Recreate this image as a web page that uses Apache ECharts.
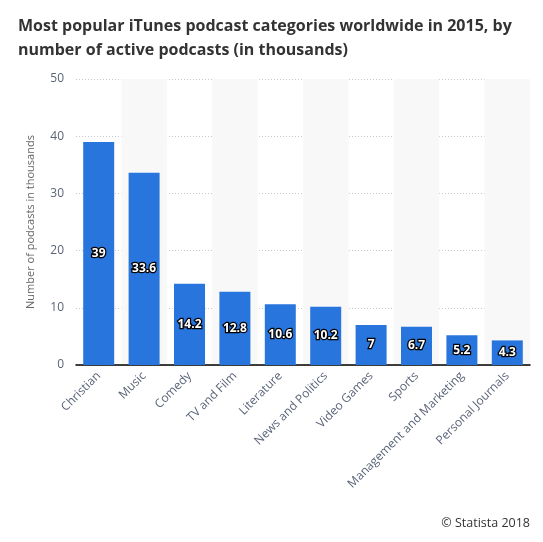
<!DOCTYPE html>
<html><head><meta charset="utf-8">
<script src="https://cdn.jsdelivr.net/npm/echarts@6/dist/echarts.min.js"></script>
<style>html,body{margin:0;padding:0;background:#fff;}#c{width:543px;height:542px;}</style>
</head><body><div id="c"></div>
<script>
const categories = ["Christian","Music","Comedy","TV and Film","Literature","News and Politics","Video Games","Sports","Management and Marketing","Personal Journals"];
const values = [39, 33.6, 14.2, 12.8, 10.6, 10.2, 7, 6.7, 5.2, 4.3];
const yTicks = [0, 10, 20, 30, 40, 50];

const chart = echarts.init(document.getElementById('c'));
chart.setOption({
  animation: false,
  textStyle: { fontFamily: 'Open Sans' },
  title: [{
    text: 'Most popular iTunes podcast categories worldwide in 2015, by\nnumber of active podcasts (in thousands)',
    left: 13, top: 9,
    textStyle: { fontFamily: 'Open Sans', fontSize: 16, fontWeight: 'bold', color: '#333', lineHeight: 24 }
  }, {
    text: '© Statista 2018',
    right: 8, bottom: 7,
    textStyle: { fontFamily: 'Open Sans', fontSize: 12.5, fontWeight: 'normal', color: '#333' }
  }],
  grid: { left: 76, right: 13, top: 79, bottom: 177, containLabel: false },
  xAxis: {
    type: 'category',
    data: categories,
    axisLine: { lineStyle: { color: '#000', width: 1.5 } },
    axisTick: { show: false },
    axisLabel: { rotate: 45, interval: 0, fontSize: 12, color: '#5a6478', margin: 9 },
    splitArea: { show: true, areaStyle: { color: ['rgba(0,0,0,0)', '#f8f8f8'] } }
  },
  yAxis: {
    type: 'value',
    min: yTicks[0], max: yTicks[yTicks.length - 1], interval: 10,
    name: 'Number of podcasts in thousands',
    nameLocation: 'middle', nameGap: 40, nameRotate: 90,
    nameTextStyle: { fontSize: 11, color: '#666' },
    axisLine: { show: false },
    axisTick: { show: false },
    axisLabel: { fontSize: 12, color: '#5a6478', margin: 12 },
    splitLine: { lineStyle: { color: '#c8c8c8', type: [1, 2] } }
  },
  series: [{
    type: 'bar',
    data: values,
    barWidth: 31,
    itemStyle: { color: '#2876dd' },
    label: {
      show: true, position: 'inside',
      color: '#fff', fontWeight: 'bold', fontSize: 12,
      textBorderColor: '#000', textBorderWidth: 2.5
    }
  }]
});
</script></body></html>
